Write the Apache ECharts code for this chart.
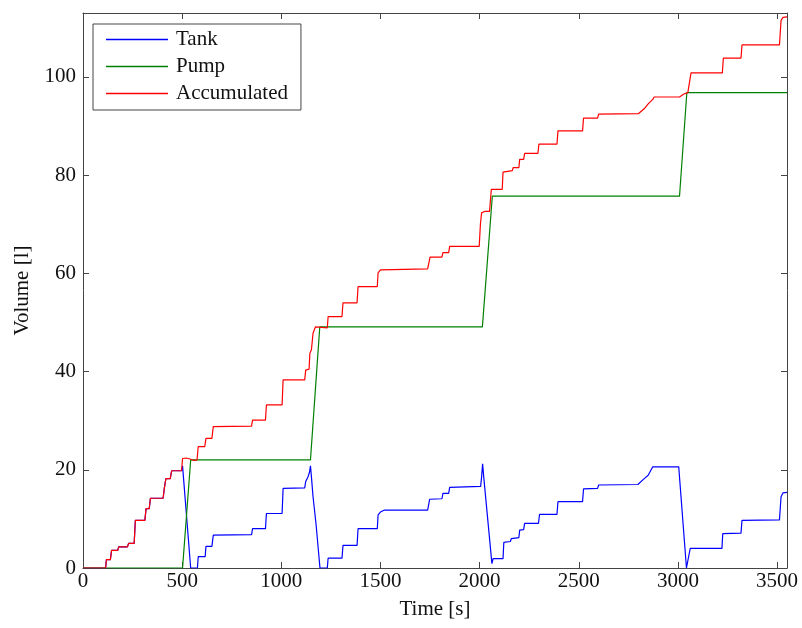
<!DOCTYPE html>
<html>
<head>
<meta charset="utf-8">
<script src="https://cdn.jsdelivr.net/npm/echarts@6/dist/echarts.min.js"></script>
<style>
html,body{margin:0;padding:0;background:#fff;}
#chart{width:802px;height:628px;}
</style>
</head>
<body>
<div id="chart"></div>
<script>
// Series names
const seriesNames = ['Tank', 'Pump', 'Accumulated'];

// Tank volume [t (s), V (l)]
const tankData = [
  [0,0],[114,0],[118,1.7],[138,1.7],[144,3.6],[175,3.6],[180,4.3],[224,4.3],[230,5.0],[258,5.0],
  [264,9.7],[312,9.7],[318,12.1],[334,12.1],[340,14.2],[404,14.2],[410,16.2],[418,18.2],[440,18.2],
  [447,19.8],[497,19.8],[502,20.8],[543,0],[577,0],[581,2.3],[616,2.3],[620,4.4],[650,4.4],[657,6.7],
  [850,6.8],[855,8.0],[920,8.0],[925,11.1],[1004,11.1],[1009,16.2],[1118,16.3],[1123,17.6],[1135,18.6],
  [1142,19.5],[1147,20.8],[1152,18.5],[1160,14.5],[1175,9.0],[1195,0],[1232,0],[1236,2.0],[1306,2.0],
  [1311,4.6],[1382,4.6],[1387,8.0],[1484,8.0],[1488,10.8],[1500,11.4],[1520,11.8],[1738,11.8],
  [1748,14.0],[1810,14.1],[1815,15.2],[1844,15.2],[1849,16.4],[2005,16.6],[2010,18.5],[2015,21.2],
  [2022,18.0],[2062,0.9],[2068,1.9],[2118,1.9],[2122,5.2],[2155,5.4],[2160,6.0],[2198,6.2],[2202,7.7],
  [2222,7.8],[2227,9.1],[2297,9.1],[2302,10.9],[2390,10.9],[2395,13.5],[2519,13.5],[2524,16.1],
  [2595,16.2],[2600,16.9],[2798,17.0],[2830,18.2],[2850,18.9],[2873,20.6],[3004,20.6],[3043,0],
  [3050,0.3],[3062,4.0],[3222,4.0],[3226,7.0],[3318,7.1],[3323,9.7],[3512,9.8],[3520,14.5],[3530,15.3],
  [3550,15.4]
];

// Pump volume [t (s), V (l)]
const pumpData = [
  [0,0],[502,0],[543,22.0],[1147,22.0],[1194,49.1],[2014,49.1],[2064,75.7],[3008,75.7],[3045,96.8],[3550,96.8]
];

// Accumulated volume [t (s), V (l)]
const accData = [
  [0,0],[114,0],[118,1.7],[138,1.7],[144,3.6],[175,3.6],[180,4.3],[224,4.3],[230,5.0],[258,5.0],
  [264,9.7],[312,9.7],[318,12.1],[334,12.1],[340,14.2],[404,14.2],[410,16.2],[418,18.2],[440,18.2],
  [447,19.8],[497,19.8],[502,22.3],[520,22.4],[540,22.2],[560,21.9],[575,22.0],[581,24.7],[614,24.7],
  [620,26.4],[650,26.4],[657,28.8],[850,28.9],[855,30.1],[920,30.1],[925,33.2],[1004,33.2],[1009,38.3],
  [1118,38.3],[1123,40.3],[1140,40.5],[1144,43.7],[1152,44.5],[1160,47.8],[1172,49.1],[1180,48.9],
  [1232,48.9],[1236,51.2],[1306,51.2],[1311,54.0],[1382,54.0],[1387,57.3],[1484,57.3],[1488,60.1],
  [1500,60.7],[1738,60.9],[1750,63.3],[1810,63.3],[1815,64.2],[1844,64.2],[1849,65.5],[1998,65.5],
  [2004,70.0],[2010,72.3],[2025,72.6],[2050,72.6],[2059,77.1],[2114,77.1],[2118,80.6],[2165,80.9],
  [2169,81.5],[2198,81.5],[2202,83.2],[2222,83.2],[2227,84.4],[2294,84.4],[2299,86.3],[2390,86.3],
  [2395,89.0],[2519,89.0],[2524,91.6],[2595,91.6],[2600,92.4],[2800,92.5],[2830,93.5],[2850,94.5],
  [2873,95.4],[2880,95.9],[3008,95.9],[3030,96.5],[3050,96.8],[3066,100.8],[3224,100.8],[3229,103.8],
  [3318,103.8],[3323,106.5],[3512,106.5],[3520,111.5],[3530,112.1],[3550,112.2]
];

const xMin = 0, xMax = 3550, xStep = 500;
const yMin = 0, yMax = 113, yStep = 20;
const colors = ['#0000ff', '#008000', '#ff0000'];

const chart = echarts.init(document.getElementById('chart'), null, {renderer: 'canvas'});
const font = 'Liberation Serif';
const fs = 21;
const axisLineStyle = {color: '#444', width: 1};
const plain = v => String(v);

function axisBase(extra) {
  return Object.assign({
    type: 'value',
    axisLine: {show: true, onZero: false, lineStyle: axisLineStyle},
    axisTick: {show: true, inside: true, length: 6, lineStyle: axisLineStyle},
    splitLine: {show: false}
  }, extra);
}

const option = {
  backgroundColor: '#fff',
  animation: false,
  color: colors,
  grid: {left: 83, right: 15, top: 13, bottom: 60, containLabel: false},
  legend: {
    orient: 'vertical',
    left: 93, top: 24,
    data: seriesNames,
    icon: 'rect',
    itemWidth: 62, itemHeight: 1.4, itemGap: 6,
    padding: [5, 13, 6, 13],
    borderColor: '#444', borderWidth: 1, borderRadius: 0,
    backgroundColor: '#fff',
    textStyle: {fontFamily: font, fontSize: fs, lineHeight: 21, color: '#111', padding: [0, 0, 0, 3]}
  },
  xAxis: [
    axisBase({
      min: xMin, max: xMax, interval: xStep, position: 'bottom',
      name: 'Time [s]', nameLocation: 'middle', nameGap: 31,
      nameTextStyle: {fontFamily: font, fontSize: fs, color: '#111'},
      axisLabel: {fontFamily: font, fontSize: fs, color: '#111', margin: 3, showMaxLabel: false, formatter: plain}
    }),
    axisBase({
      min: xMin, max: xMax, interval: xStep, position: 'top',
      axisLabel: {show: false}
    })
  ],
  yAxis: [
    axisBase({
      min: yMin, max: yMax, interval: yStep, position: 'left',
      name: 'Volume [l]', nameLocation: 'middle', nameGap: 50,
      nameTextStyle: {fontFamily: font, fontSize: fs, color: '#111'},
      axisLabel: {fontFamily: font, fontSize: fs, color: '#111', margin: 7, showMaxLabel: false, formatter: plain}
    }),
    axisBase({
      min: yMin, max: yMax, interval: yStep, position: 'right',
      axisLabel: {show: false}
    })
  ],
  series: [
    {name: seriesNames[0], type: 'line', data: tankData, symbol: 'none', lineStyle: {width: 1.2, color: colors[0]}, itemStyle: {color: colors[0]}},
    {name: seriesNames[1], type: 'line', data: pumpData, symbol: 'none', lineStyle: {width: 1.2, color: colors[1]}, itemStyle: {color: colors[1]}},
    {name: seriesNames[2], type: 'line', data: accData, symbol: 'none', lineStyle: {width: 1.2, color: colors[2]}, itemStyle: {color: colors[2]}}
  ]
};
chart.setOption(option);
</script>
</body>
</html>
